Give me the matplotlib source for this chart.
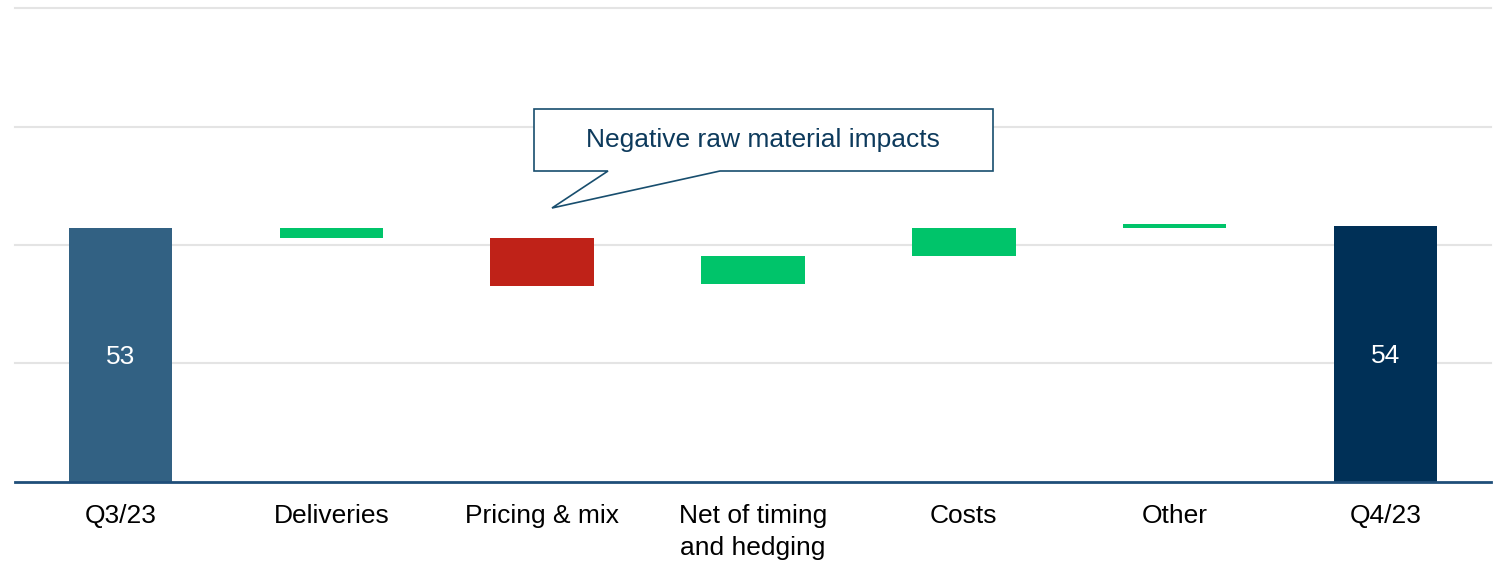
import matplotlib
matplotlib.use("Agg")
import matplotlib.pyplot as plt
from matplotlib.patches import Polygon

plt.rcParams['font.family'] = ['Liberation Sans', 'DejaVu Sans']

# ---- data ----
categories = ["Q3/23", "Deliveries", "Pricing & mix", "Net of timing\nand hedging",
              "Costs", "Other", "Q4/23"]
bar_low = [0, 51.5, 41.3, 41.7, 47.6, 53.5, 0]
bar_high = [53.5, 53.5, 51.4, 47.6, 53.5, 54.4, 54.0]
bar_colors = ["#326183", "#00C46A", "#BF2218", "#00C46A", "#00C46A", "#00C46A", "#003057"]
total_labels = {0: "53", 6: "54"}
callout_text = "Negative raw material impacts"

W, H = 1499, 562
fig = plt.figure(figsize=(W / 100, H / 100), dpi=100)
ax = fig.add_axes([15 / W, 1 - 481.5 / H, (1491 - 15) / W, (481.5 - 8.3) / H])
ax.set_xlim(-0.5, len(categories) - 0.5)
ax.set_ylim(0, 100)

for gy in [25, 50, 75, 100]:
    ax.axhline(gy, color="#E4E4E4", lw=1.5, zorder=0, clip_on=False)

x = list(range(len(categories)))
heights = [h - l for l, h in zip(bar_low, bar_high)]
ax.bar(x, heights, bottom=bar_low, width=0.49, color=bar_colors, zorder=2)

for i, lab in total_labels.items():
    ax.text(i, bar_high[i] / 2 - 0.5, lab, ha="center", va="center", color="white",
            fontsize=19, zorder=3)

ax.axhline(0, color="#1F4E79", lw=2.0, zorder=3, clip_on=False)

for s in ax.spines.values():
    s.set_visible(False)
ax.set_yticks([])
ax.set_xticks(x)
ax.set_xticklabels(categories, fontsize=19, color="black", linespacing=1.42)
ax.tick_params(axis="x", length=0, pad=16)

# callout
def px(xp, yp):
    return (xp / W, 1 - yp / H)

verts = [px(534, 109), px(993, 109), px(993, 171), px(720, 171),
         px(552, 208), px(608, 171), px(534, 171)]
poly = Polygon(verts, closed=True, transform=fig.transFigure, facecolor="white",
               edgecolor="#184E6E", lw=1.2, zorder=5)
fig.patches.append(poly)
tx, ty = px(763, 140)
fig.text(tx, ty, callout_text, ha="center", va="center", fontsize=19,
         color="#0D3A5C", zorder=6)

fig.savefig("out.png", dpi=100)
